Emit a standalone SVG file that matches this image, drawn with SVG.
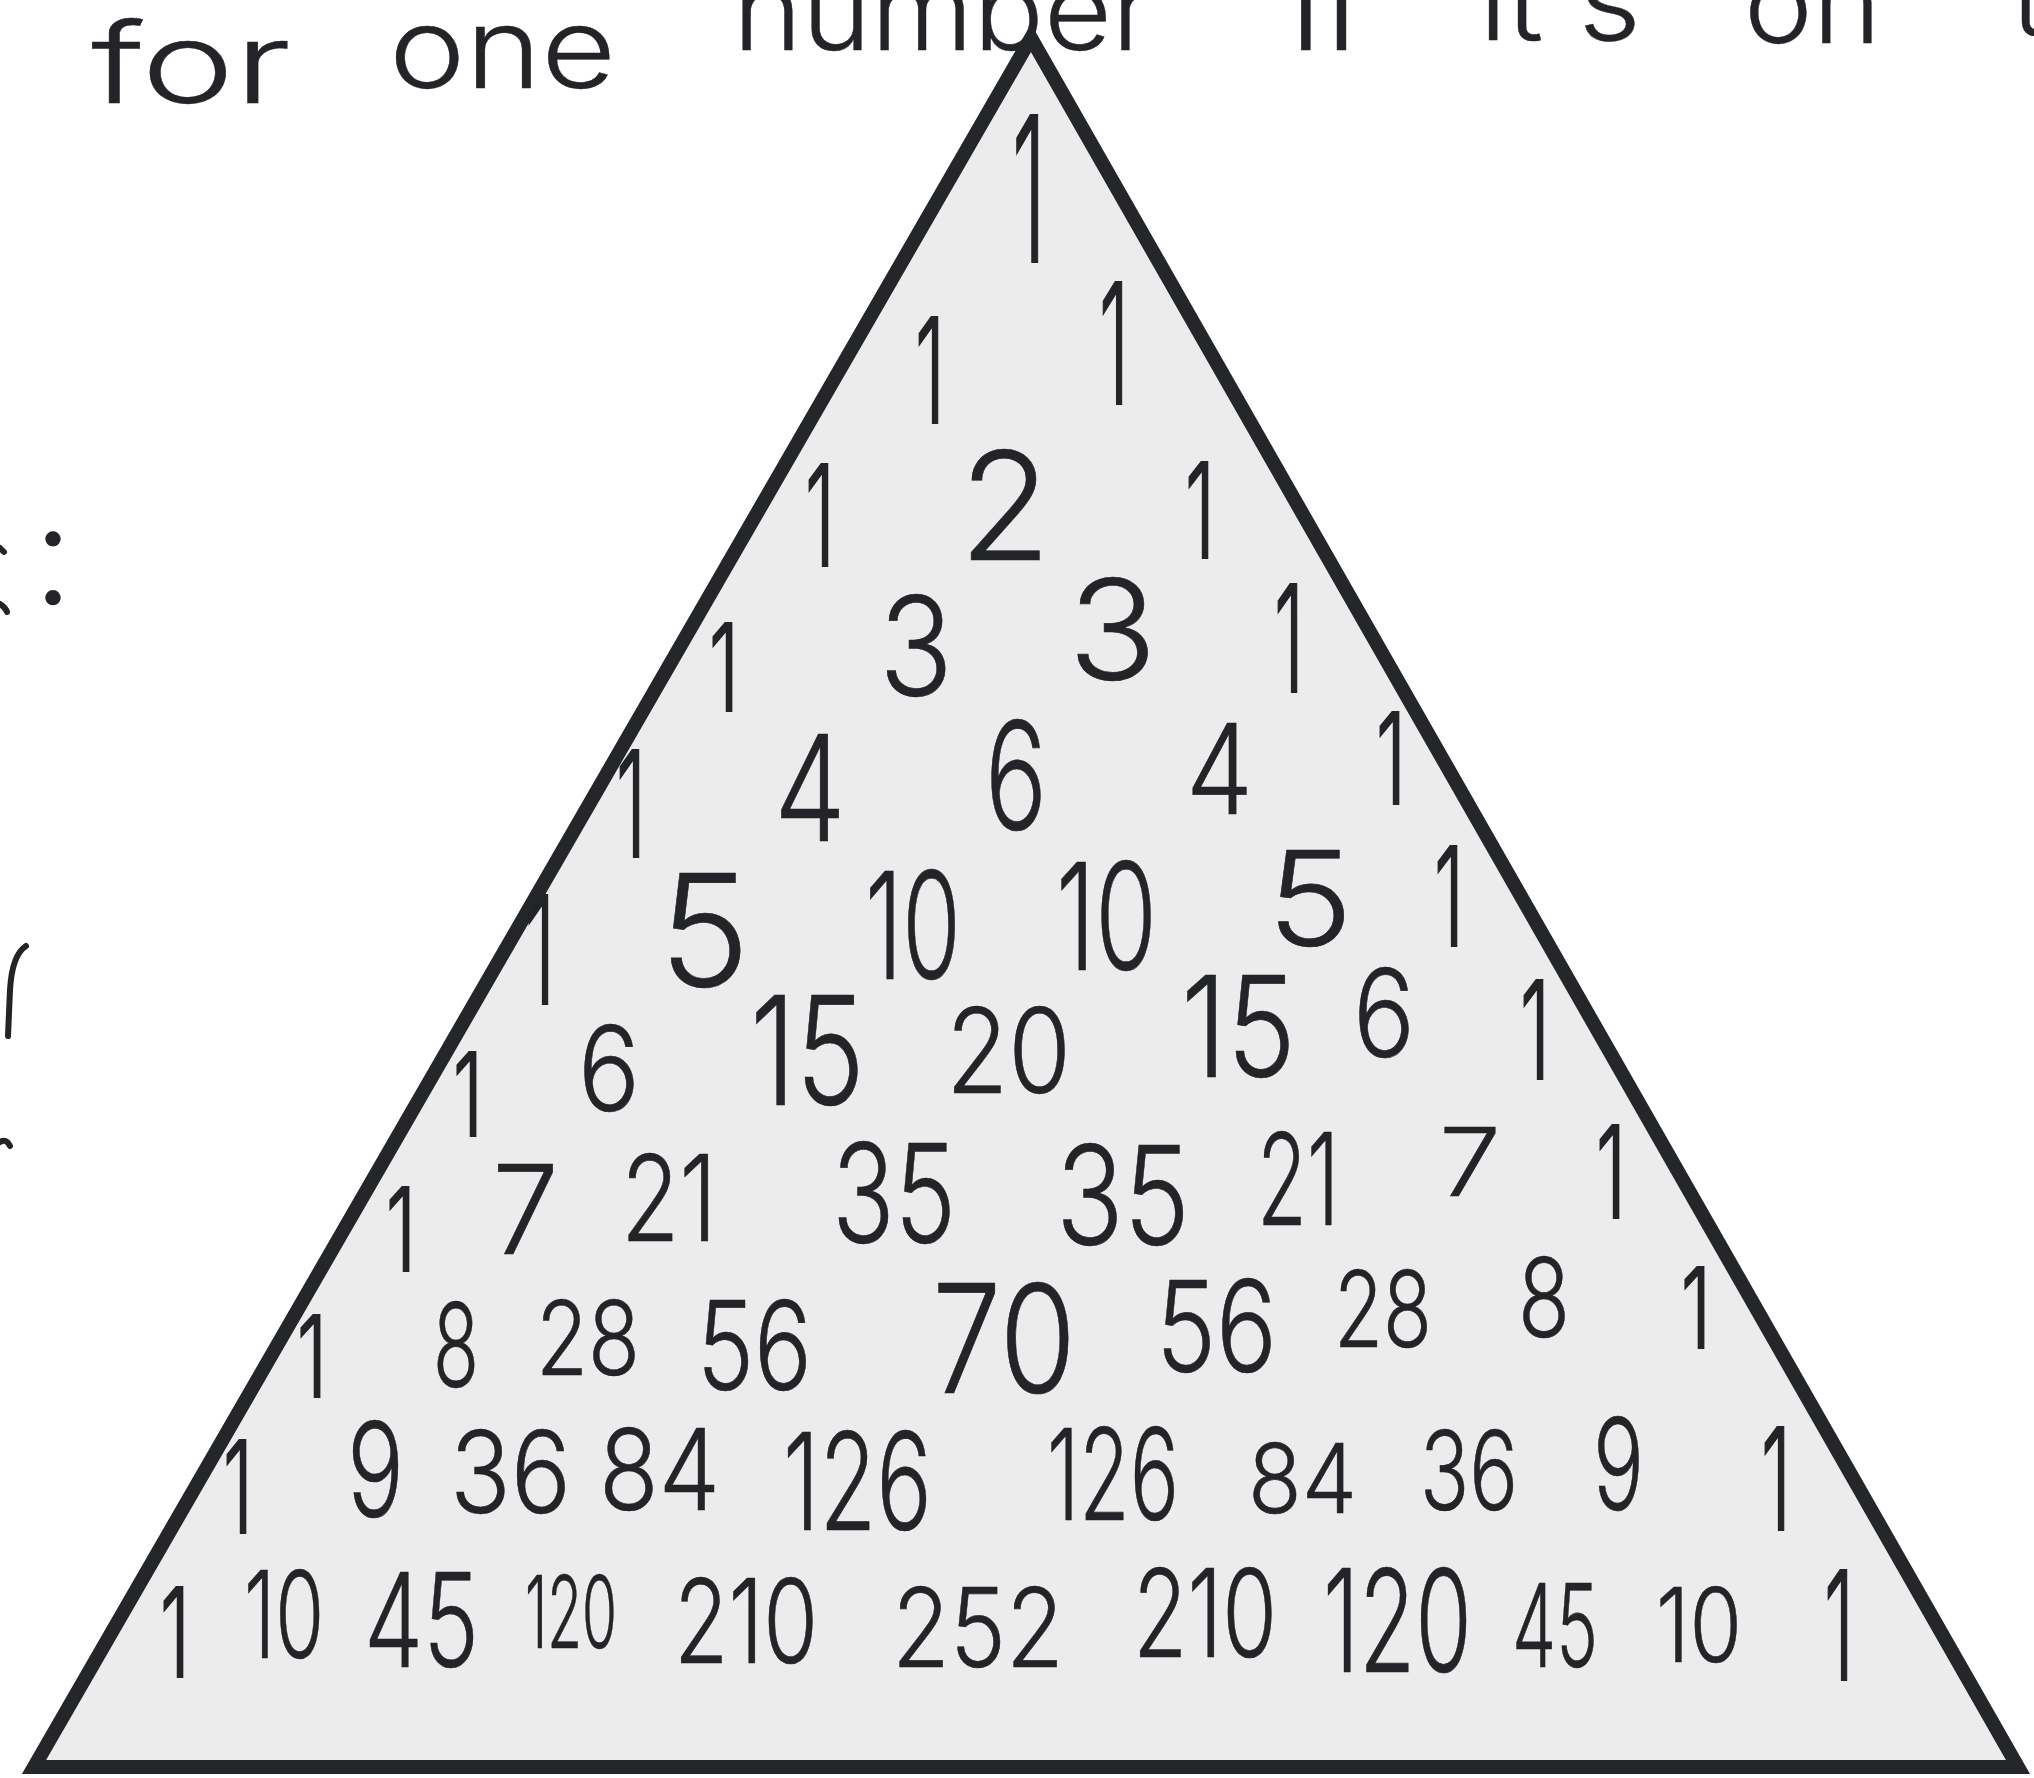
<svg xmlns="http://www.w3.org/2000/svg" width="2034" height="1778" viewBox="0 0 2034 1778">
<style>
.n, .t, .o { font-family: Inter, "Open Sans", "DejaVu Sans", sans-serif; font-weight: 300; fill: #232428; }
.n { stroke: #232428; stroke-width: 0.6; }
.t { stroke: #232428; stroke-width: 0.4; }
.o { stroke: #232428; stroke-width: 2.2; }
.c { text-anchor: middle; }
.mark { fill: none; stroke: #232428; stroke-width: 6; stroke-linecap: round; }
</style>
<rect x="0" y="0" width="2034" height="1778" fill="#ffffff"/>
<g id="heading">
<text class="t" font-size="112"><tspan x="91" y="103" textLength="200" lengthAdjust="spacingAndGlyphs">for</tspan><tspan x="389" y="88" textLength="227" lengthAdjust="spacingAndGlyphs">one</tspan><tspan x="733" y="50" textLength="421" lengthAdjust="spacingAndGlyphs">number</tspan><tspan x="1290" y="50" textLength="78" lengthAdjust="spacingAndGlyphs">if</tspan><tspan x="1479" y="40" textLength="162" lengthAdjust="spacingAndGlyphs">it's</tspan><tspan x="1744" y="43" textLength="137" lengthAdjust="spacingAndGlyphs">on</tspan><tspan x="2012" y="35">t</tspan></text>
</g>
<g id="left-fragments">
<text class="t c" x="53" y="604" font-size="140">:</text>
<path class="mark" d="M0,548 L4,552"/>
<path class="mark" d="M0,604 Q6,608 7,612"/>
<path class="mark" d="M26,946 Q12,955 10,990 L8,1036"/>
<path class="mark" d="M0,1142 Q6,1138 10,1146"/>
</g>
<g id="triangle">
<polygon points="1031,38 2018,1767 34,1767" fill="#ececec" stroke="#25262a" stroke-width="14" stroke-linejoin="miter"/>
</g>
<g id="row-0">
<text class="o" x="1012" y="262" font-size="202" textLength="34" lengthAdjust="spacingAndGlyphs">1</text>
</g>
<g id="row-1">
<text class="o" x="915" y="423" font-size="146" textLength="30" lengthAdjust="spacingAndGlyphs">1</text>
<text class="o" x="1099" y="404" font-size="168" textLength="30" lengthAdjust="spacingAndGlyphs">1</text>
</g>
<g id="row-2">
<text class="o" x="805" y="566" font-size="140" textLength="30" lengthAdjust="spacingAndGlyphs">1</text>
<text class="n" x="959" y="560" font-size="150" textLength="92" lengthAdjust="spacingAndGlyphs">2</text>
<text class="o" x="1185" y="558" font-size="132" textLength="30" lengthAdjust="spacingAndGlyphs">1</text>
</g>
<g id="row-3">
<text class="o" x="709" y="711" font-size="121" textLength="30" lengthAdjust="spacingAndGlyphs">1</text>
<text class="n" x="879" y="696" font-size="138" textLength="74" lengthAdjust="spacingAndGlyphs">3</text>
<text class="n" x="1068" y="680" font-size="140" textLength="89" lengthAdjust="spacingAndGlyphs">3</text>
<text class="o" x="1274" y="692" font-size="149" textLength="30" lengthAdjust="spacingAndGlyphs">1</text>
</g>
<g id="row-4">
<text class="o" x="616" y="857" font-size="147" textLength="30" lengthAdjust="spacingAndGlyphs">1</text>
<text class="n" x="774" y="841" font-size="147" textLength="72" lengthAdjust="spacingAndGlyphs">4</text>
<text class="n" x="985" y="830" font-size="151" textLength="62" lengthAdjust="spacingAndGlyphs">6</text>
<text class="n" x="1186" y="814" font-size="125" textLength="67" lengthAdjust="spacingAndGlyphs">4</text>
<text class="o" x="1376" y="804" font-size="127" textLength="30" lengthAdjust="spacingAndGlyphs">1</text>
</g>
<g id="row-5">
<text class="o" x="525" y="1004" font-size="150" textLength="30" lengthAdjust="spacingAndGlyphs">1</text>
<text class="n" x="659" y="986" font-size="155" textLength="91" lengthAdjust="spacingAndGlyphs">5</text>
<text class="n" x="865" y="979" font-size="149" textLength="96" lengthAdjust="spacingAndGlyphs">10</text>
<text class="n" x="1056" y="970" font-size="149" textLength="101" lengthAdjust="spacingAndGlyphs">10</text>
<text class="n" x="1267" y="946" font-size="132" textLength="86" lengthAdjust="spacingAndGlyphs">5</text>
<text class="o" x="1434" y="946" font-size="138" textLength="30" lengthAdjust="spacingAndGlyphs">1</text>
</g>
<g id="row-6">
<text class="o" x="453" y="1136" font-size="116" textLength="30" lengthAdjust="spacingAndGlyphs">1</text>
<text class="n" x="578" y="1111" font-size="118" textLength="62" lengthAdjust="spacingAndGlyphs">6</text>
<text class="n" x="750" y="1105" font-size="151" textLength="115" lengthAdjust="spacingAndGlyphs">15</text>
<text class="n" x="946" y="1093" font-size="118" textLength="125" lengthAdjust="spacingAndGlyphs">20</text>
<text class="n" x="1181" y="1077" font-size="140" textLength="115" lengthAdjust="spacingAndGlyphs">15</text>
<text class="n" x="1353" y="1057" font-size="122" textLength="62" lengthAdjust="spacingAndGlyphs">6</text>
<text class="o" x="1520" y="1079" font-size="136" textLength="30" lengthAdjust="spacingAndGlyphs">1</text>
</g>
<g id="row-7">
<text class="o" x="386" y="1271" font-size="116" textLength="30" lengthAdjust="spacingAndGlyphs">1</text>
<text class="n" x="492" y="1254" font-size="124" textLength="67" lengthAdjust="spacingAndGlyphs">7</text>
<text class="n" x="621" y="1241" font-size="120" textLength="96" lengthAdjust="spacingAndGlyphs">21</text>
<text class="n" x="832" y="1243" font-size="138" textLength="124" lengthAdjust="spacingAndGlyphs">35</text>
<text class="n" x="1056" y="1245" font-size="138" textLength="134" lengthAdjust="spacingAndGlyphs">35</text>
<text class="n" x="1257" y="1225" font-size="128" textLength="82" lengthAdjust="spacingAndGlyphs">21</text>
<text class="n" x="1439" y="1196" font-size="95" textLength="62" lengthAdjust="spacingAndGlyphs">7</text>
<text class="o" x="1596" y="1218" font-size="128" textLength="30" lengthAdjust="spacingAndGlyphs">1</text>
</g>
<g id="row-8">
<text class="o" x="297" y="1397" font-size="113" textLength="30" lengthAdjust="spacingAndGlyphs">1</text>
<text class="n" x="433" y="1387" font-size="116" textLength="46" lengthAdjust="spacingAndGlyphs">8</text>
<text class="n" x="536" y="1375" font-size="103" textLength="104" lengthAdjust="spacingAndGlyphs">28</text>
<text class="n" x="697" y="1390" font-size="124" textLength="115" lengthAdjust="spacingAndGlyphs">56</text>
<text class="n" x="932" y="1393" font-size="151" textLength="144" lengthAdjust="spacingAndGlyphs">70</text>
<text class="n" x="1156" y="1372" font-size="127" textLength="121" lengthAdjust="spacingAndGlyphs">56</text>
<text class="n" x="1334" y="1347" font-size="106" textLength="98" lengthAdjust="spacingAndGlyphs">28</text>
<text class="n" x="1518" y="1337" font-size="110" textLength="52" lengthAdjust="spacingAndGlyphs">8</text>
<text class="o" x="1681" y="1348" font-size="111" textLength="30" lengthAdjust="spacingAndGlyphs">1</text>
</g>
<g id="row-9">
<text class="o" x="223" y="1533" font-size="128" textLength="30" lengthAdjust="spacingAndGlyphs">1</text>
<text class="n" x="347" y="1517" font-size="131" textLength="57" lengthAdjust="spacingAndGlyphs">9</text>
<text class="n" x="450" y="1513" font-size="114" textLength="121" lengthAdjust="spacingAndGlyphs">36</text>
<text class="n" x="599" y="1510" font-size="113" textLength="121" lengthAdjust="spacingAndGlyphs">84</text>
<text class="n" x="783" y="1530" font-size="135" textLength="149" lengthAdjust="spacingAndGlyphs">126</text>
<text class="n" x="1047" y="1520" font-size="127" textLength="132" lengthAdjust="spacingAndGlyphs">126</text>
<text class="n" x="1248" y="1513" font-size="96" textLength="109" lengthAdjust="spacingAndGlyphs">84</text>
<text class="n" x="1420" y="1510" font-size="110" textLength="98" lengthAdjust="spacingAndGlyphs">36</text>
<text class="n" x="1593" y="1510" font-size="127" textLength="51" lengthAdjust="spacingAndGlyphs">9</text>
<text class="o" x="1761" y="1530" font-size="142" textLength="30" lengthAdjust="spacingAndGlyphs">1</text>
</g>
<g id="row-10">
<text class="o" x="160" y="1677" font-size="124" textLength="30" lengthAdjust="spacingAndGlyphs">1</text>
<text class="n" x="244" y="1658" font-size="121" textLength="80" lengthAdjust="spacingAndGlyphs">10</text>
<text class="n" x="364" y="1667" font-size="131" textLength="115" lengthAdjust="spacingAndGlyphs">45</text>
<text class="n" x="525" y="1648" font-size="100" textLength="92" lengthAdjust="spacingAndGlyphs">120</text>
<text class="n" x="674" y="1663" font-size="117" textLength="144" lengthAdjust="spacingAndGlyphs">210</text>
<text class="n" x="892" y="1667" font-size="110" textLength="172" lengthAdjust="spacingAndGlyphs">252</text>
<text class="n" x="1133" y="1657" font-size="122" textLength="144" lengthAdjust="spacingAndGlyphs">210</text>
<text class="n" x="1323" y="1672" font-size="143" textLength="149" lengthAdjust="spacingAndGlyphs">120</text>
<text class="n" x="1512" y="1667" font-size="116" textLength="86" lengthAdjust="spacingAndGlyphs">45</text>
<text class="n" x="1656" y="1662" font-size="103" textLength="86" lengthAdjust="spacingAndGlyphs">10</text>
<text class="o" x="1824" y="1680" font-size="151" textLength="30" lengthAdjust="spacingAndGlyphs">1</text>
</g>
</svg>
